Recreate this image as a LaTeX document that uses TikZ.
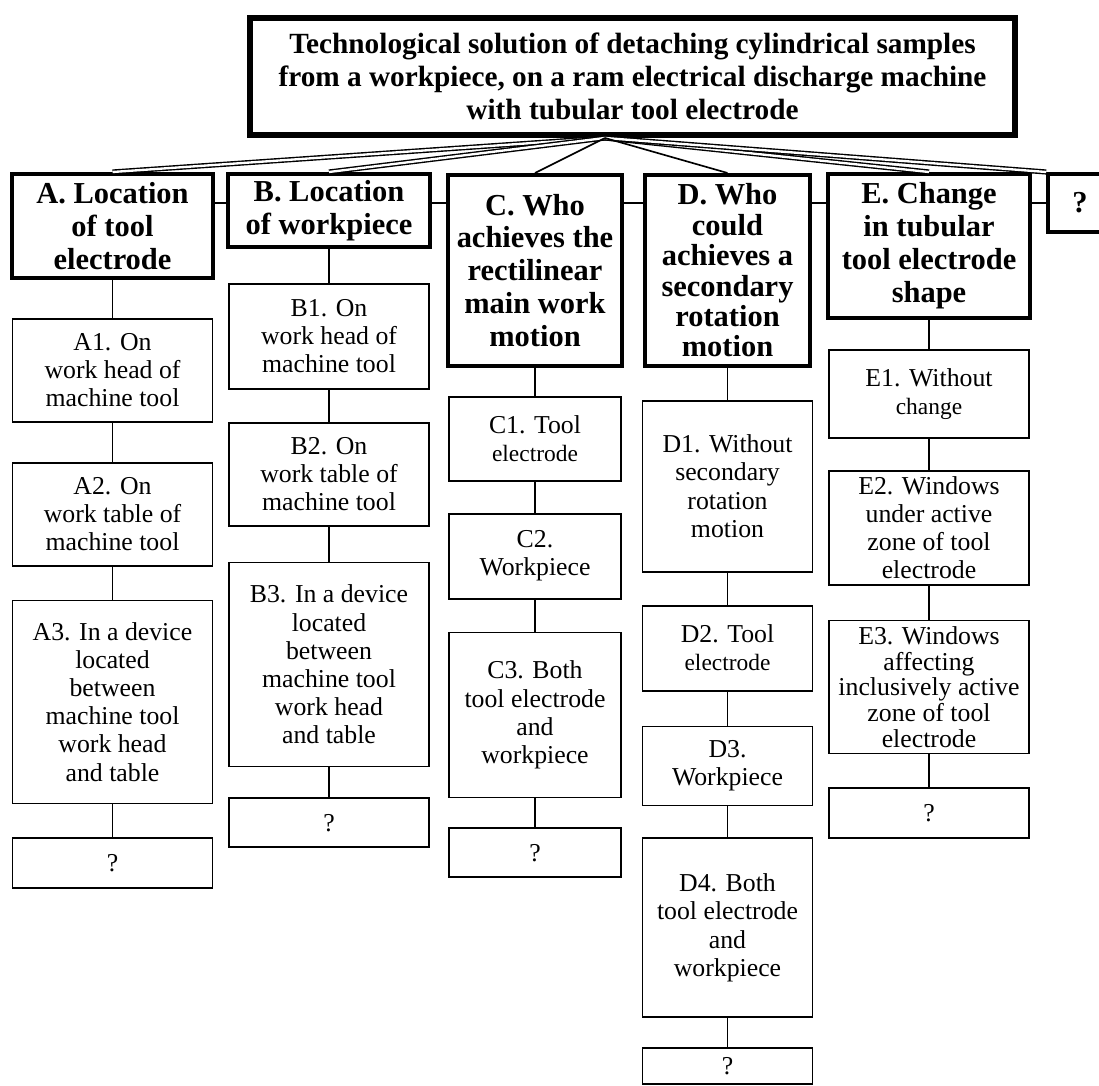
\documentclass[tikz,border=0pt]{standalone}
\usepackage{fontspec}
\setmainfont{Liberation Serif}
\usetikzlibrary{positioning,calc}
\newcommand{\minor}{\fontsize{10}{12}\selectfont}
\tikzset{
head/.style={draw=black,line width=2.5pt,inner sep=2pt,align=center,font=\fontsize{12.5}{14}\selectfont\bfseries},
crit/.style={draw=black,line width=1.6pt,inner sep=1pt,align=center,anchor=north,font=\fontsize{13}{14}\selectfont\bfseries},
opt/.style={draw=black,line width=0.8pt,inner sep=1pt,align=center,font=\fontsize{11}{12}\selectfont},
link/.style={line width=0.7pt},
twin/.style={line width=0.6pt,double,double distance=1pt}
}

\begin{document}
\begin{tikzpicture}[x=0.015cm,y=-0.015cm]
\useasboundingbox (0,0) rectangle (1099,1086);

% root
\node[head,minimum width=11.475cm,minimum height=1.755cm] (T) at (632.5,76.5)
  {Technological solution of detaching cylindrical samples\\from a workpiece, on a ram electrical discharge machine\\with tubular tool electrode};
\coordinate (hub) at (605,138);
\coordinate (row) at (0,203);

% criteria
\node[crit,minimum width=3.015cm,minimum height=1.56cm] (A) at (112.5,172) {A. Location\\of tool\\electrode};
\node[crit,minimum width=3.03cm,minimum height=1.095cm] (B) at (329,172) {B. Location\\of workpiece};
\node[crit,minimum width=2.61cm,minimum height=2.865cm] (C) at (535,173) {C. Who\\achieves the\\rectilinear\\main work\\motion};
\node[crit,minimum width=2.475cm,minimum height=2.865cm,font=\fontsize{13}{13}\selectfont\bfseries] (D) at (727.5,173) {D. Who\\could\\achieves a\\secondary\\rotation\\motion};
\node[crit,minimum width=3.03cm,minimum height=2.16cm] (E) at (929,172) {E. Change\\in tubular\\tool electrode\\shape};
\node[crit,minimum width=0.96cm,minimum height=0.87cm] (Q) at (1080,172) {?};

% variants A
\node[opt,minimum width=3cm,minimum height=1.545cm,below=0.57cm of A] (A1) {A1. On\\work head of\\machine tool};
\node[opt,minimum width=3cm,minimum height=1.545cm,below=0.585cm of A1] (A2) {A2. On\\work table of\\machine tool};
\node[opt,minimum width=3cm,minimum height=3.045cm,below=0.495cm of A2] (A3) {A3. In a device\\located\\between\\machine tool\\work head\\and table};
\node[opt,minimum width=3cm,minimum height=0.75cm,below=0.495cm of A3] (Aq) {?};

% variants B
\node[opt,minimum width=3cm,minimum height=1.575cm,below=0.51cm of B] (B1) {B1. On\\work head of\\machine tool};
\node[opt,minimum width=3cm,minimum height=1.545cm,below=0.48cm of B1] (B2) {B2. On\\work table of\\machine tool};
\node[opt,minimum width=3cm,minimum height=3.06cm,below=0.525cm of B2] (B3) {B3. In a device\\located\\between\\machine tool\\work head\\and table};
\node[opt,minimum width=3cm,minimum height=0.735cm,below=0.45cm of B3] (Bq) {?};

% variants C
\node[opt,minimum width=2.58cm,minimum height=1.26cm,below=0.42cm of C] (C1) {C1. Tool\\{\minor electrode}};
\node[opt,minimum width=2.58cm,minimum height=1.275cm,below=0.465cm of C1] (C2) {C2.\\Workpiece};
\node[opt,minimum width=2.58cm,minimum height=2.475cm,below=0.48cm of C2] (C3) {C3. Both\\tool electrode\\and\\workpiece};
\node[opt,minimum width=2.58cm,minimum height=0.735cm,below=0.435cm of C3] (Cq) {?};

% variants D
\node[opt,minimum width=2.55cm,minimum height=2.565cm,below=0.48cm of D] (D1) {D1. Without\\secondary\\rotation\\motion};
\node[opt,minimum width=2.55cm,minimum height=1.275cm,below=0.48cm of D1] (D2) {D2. Tool\\{\minor electrode}};
\node[opt,minimum width=2.55cm,minimum height=1.185cm,below=0.51cm of D2] (D3) {D3.\\Workpiece};
\node[opt,minimum width=2.55cm,minimum height=2.685cm,below=0.465cm of D3] (D4) {D4. Both\\tool electrode\\and\\workpiece};
\node[opt,minimum width=2.55cm,minimum height=0.54cm,below=0.435cm of D4] (Dq) {?};

% variants E
\node[opt,minimum width=3cm,minimum height=1.32cm,below=0.435cm of E] (E1) {E1. Without\\{\minor change}};
\node[opt,minimum width=3cm,minimum height=1.71cm,below=0.465cm of E1] (E2) {E2. Windows\\under active\\zone of tool\\electrode};
\node[opt,minimum width=3cm,minimum height=1.995cm,below=0.51cm of E2,font=\fontsize{11}{11}\selectfont] (E3) {E3. Windows\\affecting\\inclusively active\\zone of tool\\electrode};
\node[opt,minimum width=3cm,minimum height=0.75cm,below=0.495cm of E3] (Eq) {?};

% connectors
\foreach \n in {A,B,E} \draw[twin] (hub) -- (\n.north);
\draw[twin] (hub) -- (Q.north west);
\foreach \n in {C,D} \draw[link] (hub) -- (\n.north);
\foreach \u/\v in {A/B,B/C,C/D,D/E,E/Q} \draw[link] (\u.east |- row) -- (\v.west |- row);
\foreach \u/\v in {A/A1,A1/A2,A2/A3,A3/Aq,B/B1,B1/B2,B2/B3,B3/Bq,C/C1,C1/C2,C2/C3,C3/Cq,
  D/D1,D1/D2,D2/D3,D3/D4,D4/Dq,E/E1,E1/E2,E2/E3,E3/Eq}
  \draw[link] (\v.north |- \u.south) -- (\v.north);
\end{tikzpicture}
\end{document}
